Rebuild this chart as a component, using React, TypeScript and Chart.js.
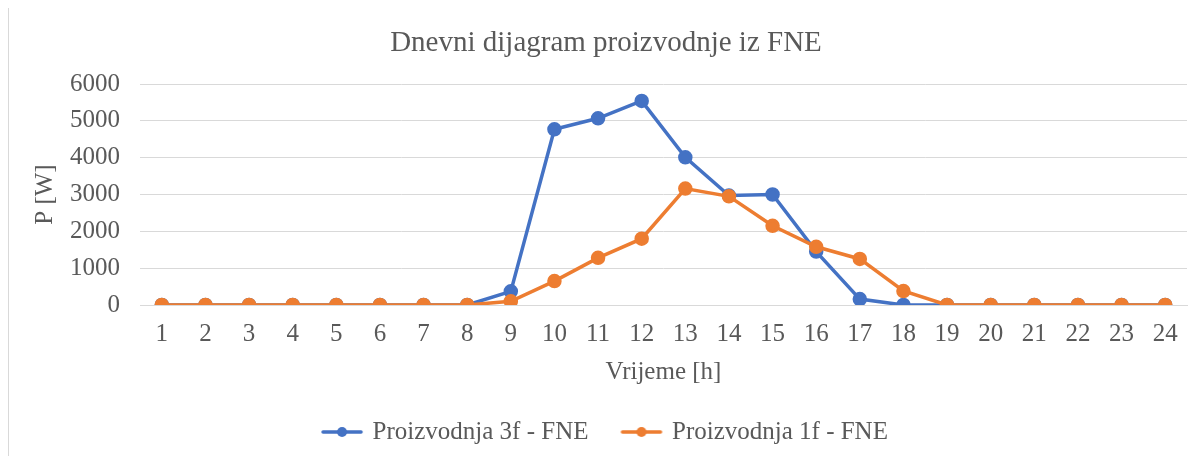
import React, { useEffect, useRef } from "react";
import { Chart, registerables } from "chart.js";

Chart.register(...registerables);

const hours = ["1","2","3","4","5","6","7","8","9","10","11","12","13","14","15","16","17","18","19","20","21","22","23","24"];
const prod3f = [0,0,0,0,0,0,0,0,370,4770,5070,5540,4010,2970,3000,1450,160,0,0,0,0,0,0,0];
const prod1f = [0,0,0,0,0,0,0,0,100,650,1280,1800,3160,2950,2150,1580,1250,380,0,0,0,0,0,0];
const seriesNames = ["Proizvodnja 3f - FNE", "Proizvodnja 1f - FNE"];
const titleText = "Dnevni dijagram proizvodnje iz FNE";
const xTitle = "Vrijeme [h]";
const yTitle = "P [W]";

const BLUE = "#4472C4";
const ORANGE = "#ED7D31";
const TEXT = "#595959";
const GRID = "#D9D9D9";
const FONT = "'Liberation Serif', 'Times New Roman', serif";

function legendMarker(color: string): HTMLCanvasElement {
  const c = document.createElement("canvas");
  c.width = 44;
  c.height = 14;
  const ctx = c.getContext("2d")!;
  ctx.strokeStyle = color;
  ctx.lineWidth = 3.5;
  ctx.lineCap = "round";
  ctx.beginPath();
  ctx.moveTo(3, 7);
  ctx.lineTo(41, 7);
  ctx.stroke();
  ctx.fillStyle = color;
  ctx.beginPath();
  ctx.arc(22, 7, 5, 0, Math.PI * 2);
  ctx.fill();
  return c;
}

export default function App() {
  const ref = useRef<HTMLCanvasElement>(null);
  useEffect(() => {
    const markers = [legendMarker(BLUE), legendMarker(ORANGE)];
    const chart = new Chart(ref.current!, {
      type: "line",
      data: {
        labels: hours,
        datasets: [
          {
            label: seriesNames[0],
            data: prod3f,
            order: 1,
            borderColor: BLUE,
            backgroundColor: BLUE,
            borderWidth: 3.5,
            pointRadius: 5.5,
            pointBackgroundColor: BLUE,
            pointBorderColor: BLUE,
            tension: 0,
          },
          {
            label: seriesNames[1],
            data: prod1f,
            order: 0,
            borderColor: ORANGE,
            backgroundColor: ORANGE,
            borderWidth: 3.5,
            pointRadius: 5.5,
            pointBackgroundColor: ORANGE,
            pointBorderColor: ORANGE,
            tension: 0,
          },
        ],
      },
      options: {
        animation: false,
        responsive: false,
        maintainAspectRatio: false,
        layout: { padding: { left: 0, right: 0, top: 10, bottom: 1.5 } },
        plugins: {
          title: {
            display: true,
            text: titleText,
            color: TEXT,
            font: { family: FONT, size: 29, weight: "normal" },
            padding: { top: 7.6, bottom: 23.6 },
          },
          legend: {
            position: "bottom",
            labels: {
              color: TEXT,
              font: { family: FONT, size: 25 },
              usePointStyle: true,
              pointStyleWidth: 36,
              boxHeight: 14,
              padding: 35,
              generateLabels: (ch: any) => {
                const items = Chart.defaults.plugins.legend.labels.generateLabels(ch);
                items.sort((a: any, b: any) => a.datasetIndex - b.datasetIndex);
                items.forEach((it: any) => {
                  it.pointStyle = markers[it.datasetIndex];
                  it.fontColor = TEXT;
                });
                return items;
              },
            },
          },
          tooltip: { enabled: false },
        },
        scales: {
          x: {
            offset: true,
            grid: { display: false, drawTicks: false, offset: false },
            border: { display: true, color: GRID, width: 1 },
            ticks: { color: TEXT, font: { family: FONT, size: 25 }, padding: 14, maxRotation: 0, autoSkip: false },
            title: { display: true, text: xTitle, color: TEXT, font: { family: FONT, size: 25, lineHeight: 1 }, padding: { top: -3.5, bottom: 0 } },
          },
          y: {
            min: 0,
            max: 6000,
            grid: { color: GRID, lineWidth: 1, drawTicks: false },
            border: { display: false },
            ticks: {
              stepSize: 1000,
              color: TEXT,
              font: { family: FONT, size: 25 },
              padding: 20,
              callback: (v: any) => String(v),
            },
            title: { display: true, text: yTitle, color: TEXT, font: { family: FONT, size: 25 }, padding: { top: 21, bottom: 0 } },
            afterFit: (s: any) => { s.width = 131; },
          },
          yRight: {
            type: "linear",
            position: "right",
            display: true,
            grid: { display: false, drawTicks: false },
            border: { display: false },
            ticks: { display: false },
            afterFit: (s: any) => { s.width = 16; },
          },
        },
      },
    });
    return () => chart.destroy();
  }, []);
  return (
    <div style={{ width: 1195, height: 449, borderLeft: "1px solid #D9D9D9", borderTop: "1px solid #D9D9D9", marginTop: -1, boxSizing: "border-box", background: "#fff" }}>
      <canvas ref={ref} width={1194} height={448} style={{ display: "block" }} />
    </div>
  );
}
